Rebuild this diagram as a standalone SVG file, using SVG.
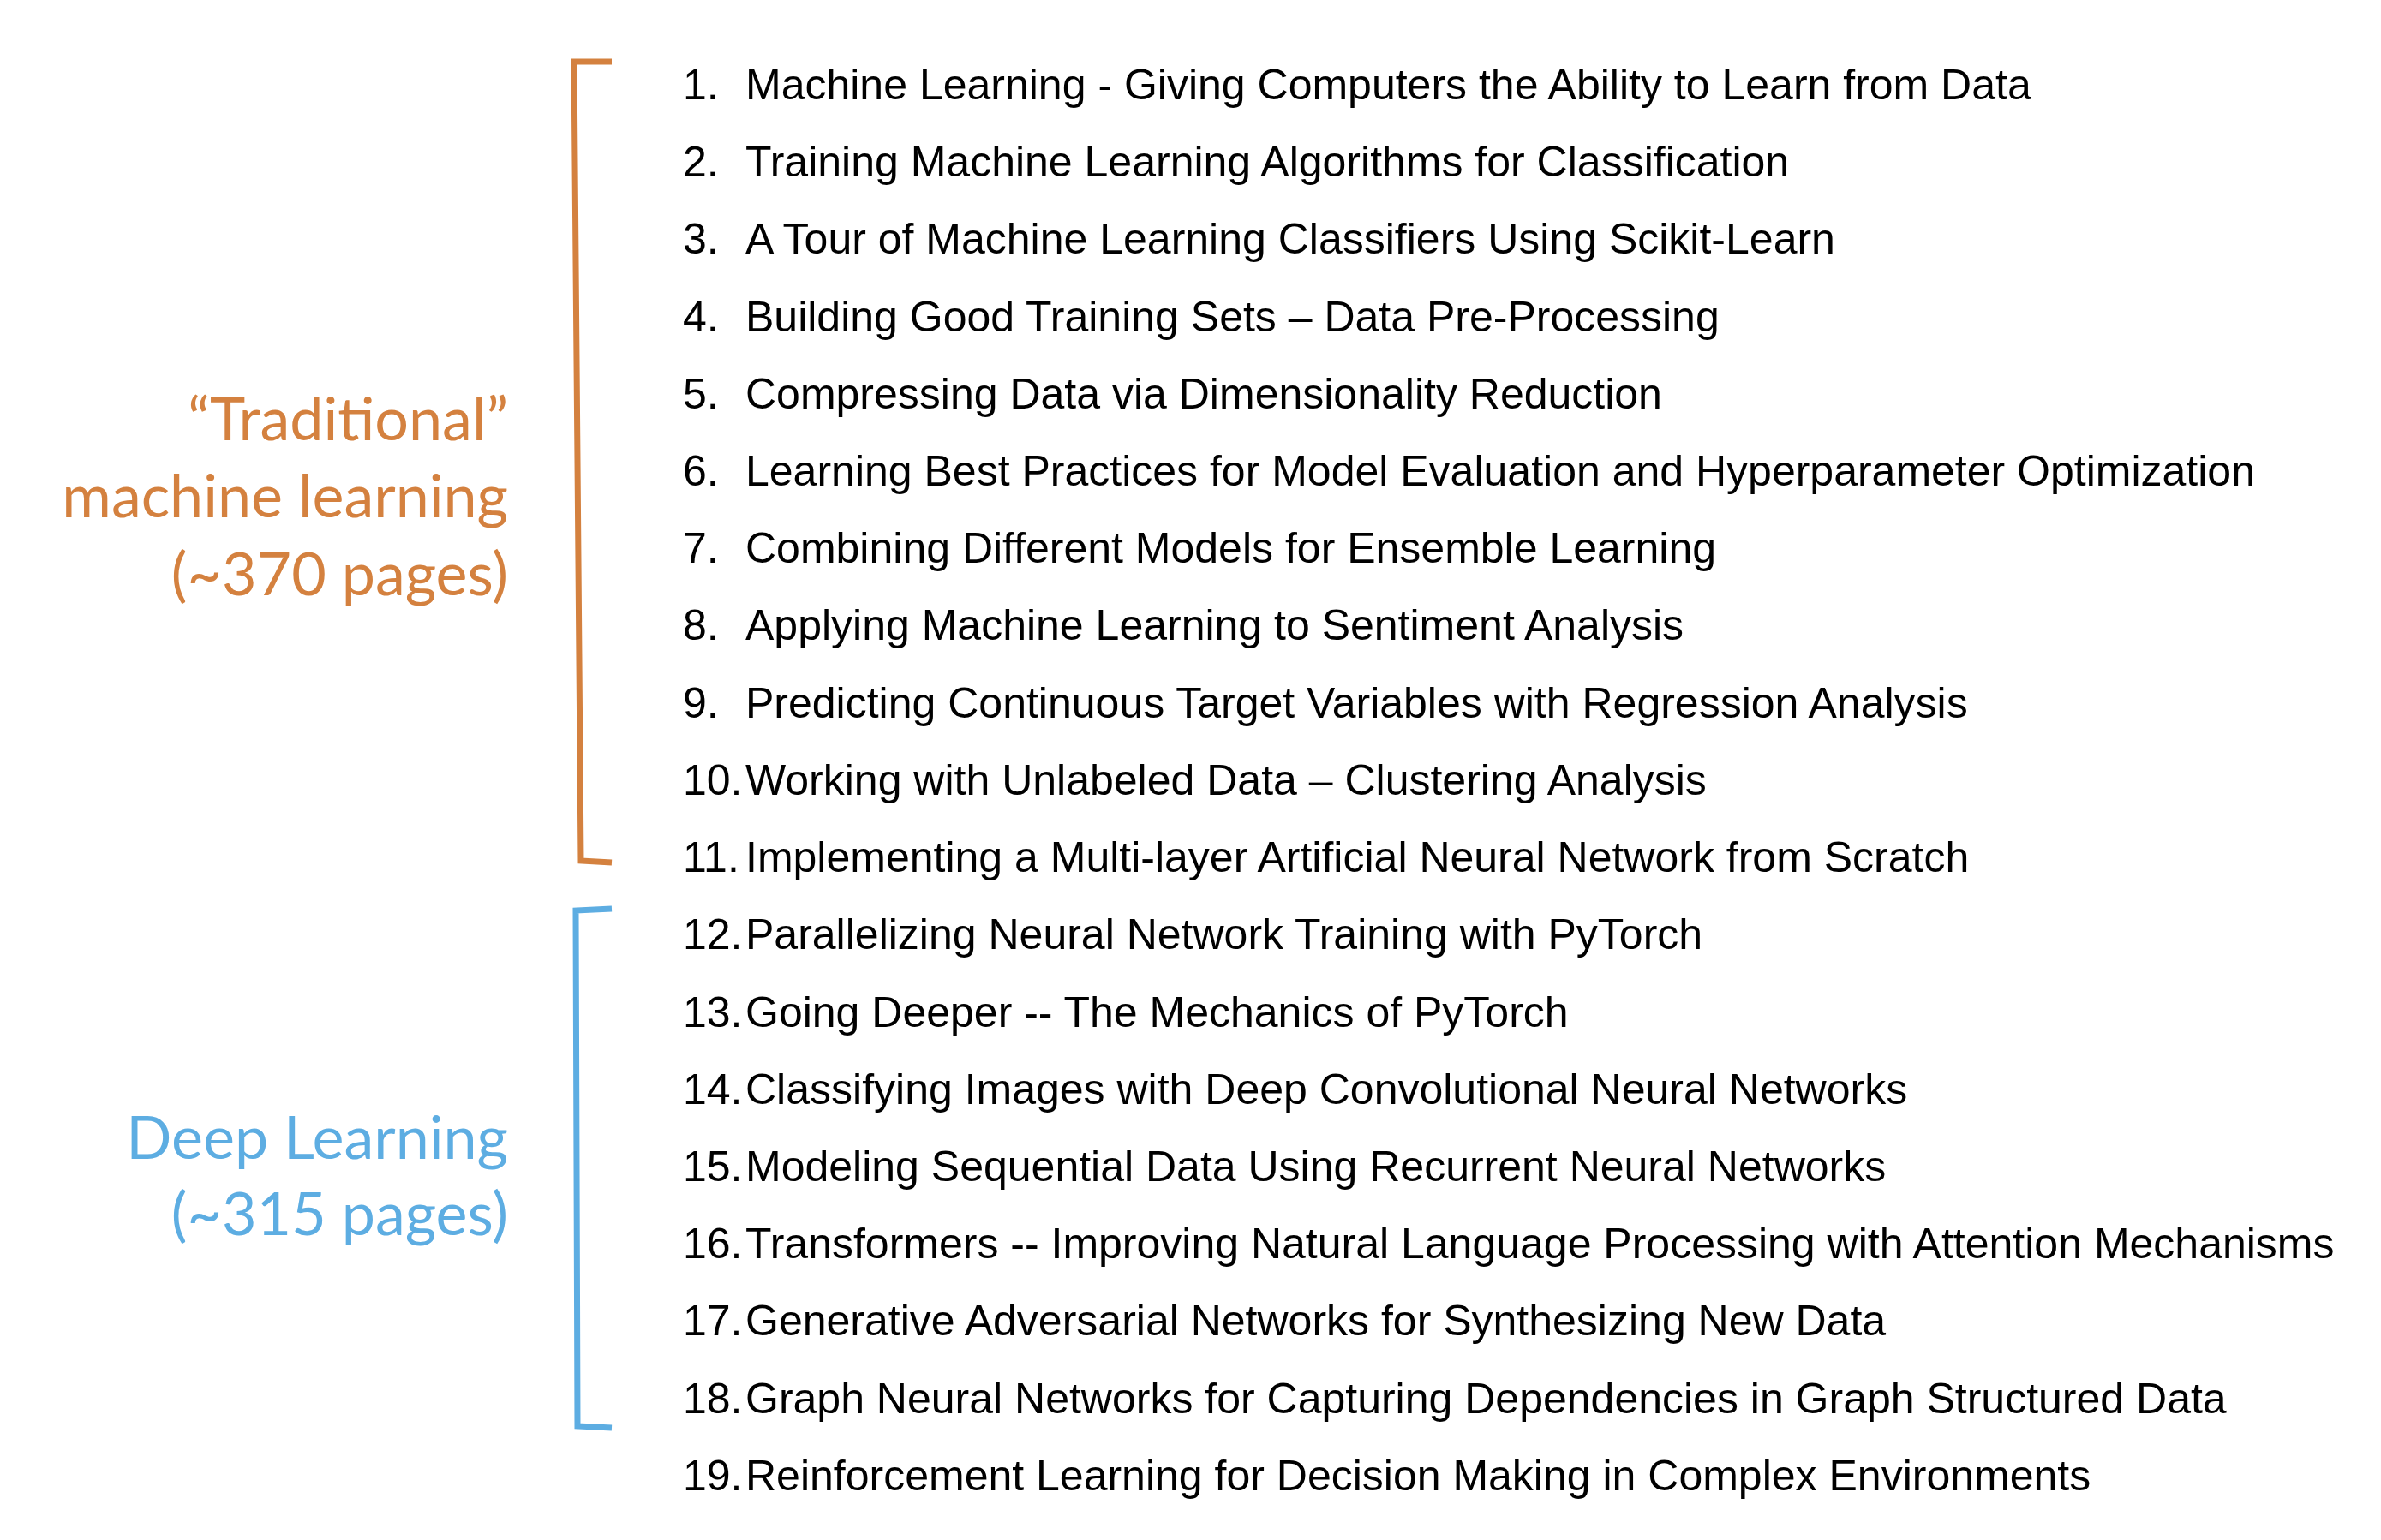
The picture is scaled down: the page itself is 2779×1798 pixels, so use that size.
<svg xmlns="http://www.w3.org/2000/svg" width="2779" height="1798" viewBox="0 0 2779 1798">
<style>
.t{font-family:"Liberation Sans",Arial,sans-serif;font-size:50px;fill:#000}
.h{font-family:Lato,"Open Sans",sans-serif;font-size:70px;text-anchor:end}
.o{fill:#D4813F}.b{fill:#5DADE2}
.br{fill:none;stroke-width:7;stroke-linecap:butt;stroke-linejoin:miter}
</style>
<rect width="2779" height="1798" fill="#fff"/>
<g id="connectors">
<path class="br" stroke="#D4813F" d="M714,72 L670,72 L678,1005 L714,1007"/>
<path class="br" stroke="#5DADE2" d="M714,1061 L672,1063 L674,1665 L714,1667"/>
</g>
<g id="label-traditional">
<text class="h o" x="593" y="514">“Traditional”</text>
<text class="h o" x="593" y="604">machine learning</text>
<text class="h o" x="593" y="695">(~370 pages)</text>
</g>
<g id="label-deep">
<text class="h b" x="593" y="1353">Deep Learning</text>
<text class="h b" x="593" y="1442">(~315 pages)</text>
</g>
<g id="chapters">
<text class="t" x="797" y="116">1.</text><text class="t" x="870" y="116">Machine Learning - Giving Computers the Ability to Learn from Data</text>
<text class="t" x="797" y="206">2.</text><text class="t" x="870" y="206">Training Machine Learning Algorithms for Classification</text>
<text class="t" x="797" y="296">3.</text><text class="t" x="870" y="296">A Tour of Machine Learning Classifiers Using Scikit-Learn</text>
<text class="t" x="797" y="387">4.</text><text class="t" x="870" y="387">Building Good Training Sets – Data Pre-Processing</text>
<text class="t" x="797" y="477">5.</text><text class="t" x="870" y="477">Compressing Data via Dimensionality Reduction</text>
<text class="t" x="797" y="567">6.</text><text class="t" x="870" y="567">Learning Best Practices for Model Evaluation and Hyperparameter Optimization</text>
<text class="t" x="797" y="657">7.</text><text class="t" x="870" y="657">Combining Different Models for Ensemble Learning</text>
<text class="t" x="797" y="747">8.</text><text class="t" x="870" y="747">Applying Machine Learning to Sentiment Analysis</text>
<text class="t" x="797" y="838">9.</text><text class="t" x="870" y="838">Predicting Continuous Target Variables with Regression Analysis</text>
<text class="t" x="797" y="928">10.</text><text class="t" x="870" y="928">Working with Unlabeled Data – Clustering Analysis</text>
<text class="t" x="797" y="1018">11.</text><text class="t" x="870" y="1018">Implementing a Multi-layer Artificial Neural Network from Scratch</text>
<text class="t" x="797" y="1108">12.</text><text class="t" x="870" y="1108">Parallelizing Neural Network Training with PyTorch</text>
<text class="t" x="797" y="1199">13.</text><text class="t" x="870" y="1199">Going Deeper -- The Mechanics of PyTorch</text>
<text class="t" x="797" y="1289">14.</text><text class="t" x="870" y="1289">Classifying Images with Deep Convolutional Neural Networks</text>
<text class="t" x="797" y="1379">15.</text><text class="t" x="870" y="1379">Modeling Sequential Data Using Recurrent Neural Networks</text>
<text class="t" x="797" y="1469">16.</text><text class="t" x="870" y="1469">Transformers -- Improving Natural Language Processing with Attention Mechanisms</text>
<text class="t" x="797" y="1559">17.</text><text class="t" x="870" y="1559">Generative Adversarial Networks for Synthesizing New Data</text>
<text class="t" x="797" y="1650">18.</text><text class="t" x="870" y="1650">Graph Neural Networks for Capturing Dependencies in Graph Structured Data</text>
<text class="t" x="797" y="1740">19.</text><text class="t" x="870" y="1740">Reinforcement Learning for Decision Making in Complex Environments</text>
</g>
</svg>
